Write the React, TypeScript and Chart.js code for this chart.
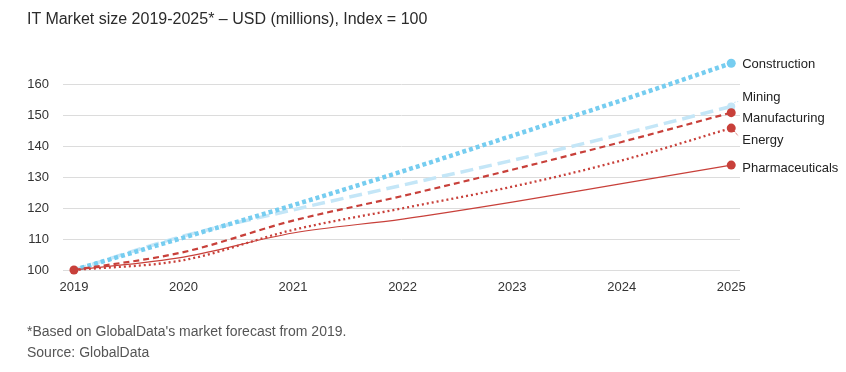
import React, { useEffect, useRef } from "react";
import { Chart, registerables } from "chart.js";

Chart.register(...registerables);

const years = [2019, 2020, 2021, 2022, 2023, 2024, 2025];
const seriesNames = ["Construction", "Mining", "Manufacturing", "Energy", "Pharmaceuticals"];
const construction = [100, 110.5, 121, 132, 143.5, 155, 167];
const mining = [100, 111, 119.5, 127.5, 135.5, 144, 153];
const manufacturing = [100, 105.8, 116, 124, 132.5, 141.5, 151];
const energy = [100, 103.2, 113, 120, 127, 135.5, 146];
const pharmaceuticals = [100, 104.2, 112, 116.5, 122, 128, 134];
const yTicks = [100, 110, 120, 130, 140, 150, 160];

const BLUE = "#76cdf0";
const PALE = "#c4e6f7";
const RED = "#c8403a";
const FONT = "'Liberation Sans', Arial, sans-serif";

const labelStyle: Record<string, { dy: number; leader: boolean; lc: string }> = {
  Construction: { dy: 1, leader: false, lc: BLUE },
  Mining: { dy: -9, leader: true, lc: PALE },
  Manufacturing: { dy: 6, leader: false, lc: RED },
  Energy: { dy: 12, leader: true, lc: RED },
  Pharmaceuticals: { dy: 3, leader: false, lc: RED },
};

const endLabels = {
  id: "endLabels",
  afterDatasetsDraw(chart: any) {
    const ctx = chart.ctx;
    ctx.save();
    chart.data.datasets.forEach((ds: any, i: number) => {
      const meta = chart.getDatasetMeta(i);
      const pt = meta.data[meta.data.length - 1];
      const st = labelStyle[ds.label];
      const ly = pt.y + st.dy;
      if (st.leader) {
        ctx.beginPath();
        ctx.strokeStyle = st.lc;
        ctx.lineWidth = 1;
        ctx.setLineDash([1.5, 1.5]);
        const up = st.dy < 0;
        ctx.moveTo(pt.x + 3, pt.y + (up ? -4 : 3));
        ctx.lineTo(pt.x + 7, ly + (up ? 4 : -4));
        ctx.stroke();
        ctx.setLineDash([]);
      }
      ctx.fillStyle = "#222";
      ctx.font = `13px ${FONT}`;
      ctx.textBaseline = "middle";
      ctx.textAlign = "left";
      ctx.fillText(ds.label, pt.x + 11, ly);
    });
    ctx.restore();
  },
};

function endRadius(r: number, first: boolean) {
  return years.map((_, i) => (i === years.length - 1 || (first && i === 0) ? r : 0));
}

export default function App() {
  const ref = useRef<HTMLCanvasElement>(null);
  useEffect(() => {
    if (!ref.current) return;
    const xy = (vals: number[]) => vals.map((v, i) => ({ x: years[i], y: v }));
    const chart = new Chart(ref.current, {
      type: "line",
      data: {
        datasets: [
          {
            label: seriesNames[0],
            data: xy(construction),
            borderColor: BLUE,
            backgroundColor: BLUE,
            borderWidth: 4.5,
            borderDash: [4, 3],
            pointRadius: endRadius(4.5, false),
            pointBorderWidth: 0,
            order: 3,
          },
          {
            label: seriesNames[1],
            data: xy(mining),
            borderColor: PALE,
            backgroundColor: PALE,
            borderWidth: 3.5,
            borderDash: [13, 6],
            pointRadius: endRadius(4, false),
            pointBorderWidth: 0,
            order: 4,
          },
          {
            label: seriesNames[2],
            data: xy(manufacturing),
            borderColor: RED,
            backgroundColor: RED,
            borderWidth: 2.2,
            borderDash: [6, 4],
            pointRadius: endRadius(4.5, true),
            pointBorderWidth: 0,
            order: 0,
          },
          {
            label: seriesNames[3],
            data: xy(energy),
            borderColor: RED,
            backgroundColor: RED,
            borderWidth: 2.3,
            borderDash: [2, 3],
            pointRadius: endRadius(4.5, false),
            pointBorderWidth: 0,
            order: 1,
          },
          {
            label: seriesNames[4],
            data: xy(pharmaceuticals),
            borderColor: RED,
            backgroundColor: RED,
            borderWidth: 1.2,
            pointRadius: endRadius(4.5, false),
            pointBorderWidth: 0,
            order: 2,
          },
        ],
      },
      options: {
        animation: false,
        responsive: false,
        maintainAspectRatio: false,
        clip: false as any,
        elements: { line: { tension: 0.3, cubicInterpolationMode: "monotone" } },
        layout: { padding: { left: 27, right: 106, top: 54, bottom: 72 } },
        plugins: { legend: { display: false }, tooltip: { enabled: false } },
        scales: {
          x: {
            type: "linear",
            min: 2018.9,
            max: 2025.08,
            afterBuildTicks: (s: any) => {
              s.ticks = years.map((v) => ({ value: v }));
            },
            grid: { display: false, drawTicks: false },
            border: { display: false },
            ticks: {
              padding: 10,
              color: "#333",
              font: { family: FONT, size: 13 },
              callback: (v: any) => String(v),
              maxRotation: 0,
              autoSkip: false,
            },
            afterFit: (s: any) => {
              s.height = 30;
            },
          },
          y: {
            min: 100,
            max: 170,
            afterBuildTicks: (s: any) => {
              s.ticks = yTicks.map((v) => ({ value: v }));
            },
            grid: { color: "#dcdcdc", lineWidth: 1, drawTicks: false },
            border: { display: false },
            ticks: {
              padding: 14,
              color: "#333",
              font: { family: FONT, size: 13 },
            },
            afterFit: (s: any) => {
              s.width = 36;
            },
          },
        },
      },
      plugins: [endLabels],
    });
    return () => chart.destroy();
  }, []);

  return (
    <div style={{ position: "absolute", left: 0, top: 0, width: 846, height: 372, background: "#fff", fontFamily: FONT }}>
      <canvas ref={ref} width={846} height={372} style={{ position: "absolute", left: 0, top: 0 }} />
      <div style={{ position: "absolute", left: 27, top: 10, fontSize: 16, color: "#2b2b2b", whiteSpace: "nowrap" }}>
        IT Market size 2019-2025* – USD (millions), Index = 100
      </div>
      <div style={{ position: "absolute", left: 27, top: 323, fontSize: 14, color: "#555", whiteSpace: "nowrap" }}>
        *Based on GlobalData's market forecast from 2019.
      </div>
      <div style={{ position: "absolute", left: 27, top: 344, fontSize: 14, color: "#555", whiteSpace: "nowrap" }}>
        Source: GlobalData
      </div>
    </div>
  );
}
